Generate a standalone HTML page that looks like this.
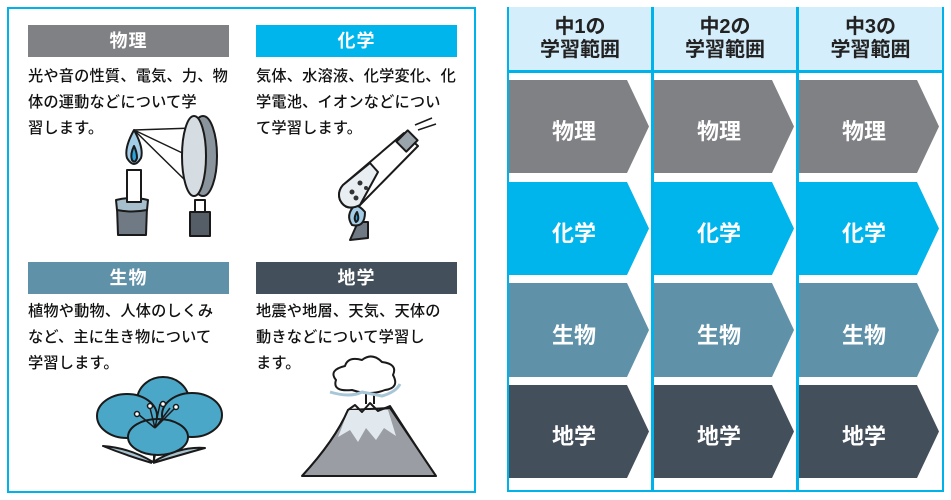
<!DOCTYPE html>
<html><head><meta charset="utf-8"><style>
*{margin:0;padding:0;box-sizing:border-box}
body{width:951px;height:500px;background:#fff;position:relative;overflow:hidden;font-family:"Liberation Sans","Noto Sans CJK JP",sans-serif}
.abs{position:absolute}
.hd{position:absolute;height:32px;color:#fff;font-size:18px;font-weight:bold;text-align:center;line-height:32px;letter-spacing:1px}
.tx{position:absolute;font-size:15.2px;line-height:26px;color:#111;white-space:nowrap;letter-spacing:0.2px;font-weight:500}
.ch{position:absolute;top:7px;height:63px;background:#d5eefb;color:#222;font-weight:bold;font-size:20px;line-height:23px;text-align:center;padding-top:9px}
.ar{position:absolute;color:#fff;font-size:22px;font-weight:bold;text-align:center}
</style></head><body>
<div class="abs" style="left:7px;top:7px;width:469px;height:486px;border:2.5px solid #00b2ea"></div>
<div class="hd" style="left:28px;top:25px;width:201px;background:#808185">物理</div>
<div class="hd" style="left:256px;top:25px;width:201px;background:#00b4ec">化学</div>
<div class="hd" style="left:28px;top:262px;width:201px;background:#5f91a8">生物</div>
<div class="hd" style="left:256px;top:262px;width:201px;background:#434f5a">地学</div>
<div class="tx" style="left:28px;top:64px">光や音の性質、電気、力、物<br>体の運動などについて学<br>習します。</div>
<div class="tx" style="left:256px;top:64px">気体、水溶液、化学変化、化<br>学電池、イオンなどについ<br>て学習します。</div>
<div class="tx" style="left:28px;top:299px">植物や動物、人体のしくみ<br>など、主に生き物について<br>学習します。</div>
<div class="tx" style="left:256px;top:299px">地震や地層、天気、天体の<br>動きなどについて学習し<br>ます。</div>

<svg class="abs" style="left:0;top:0" width="480" height="500" stroke="#1a1a1a" stroke-width="2" stroke-linejoin="round">
<path d="M117 207 L147 207 L146 235 L118 235Z" fill="#6f7a84"/>
<path d="M116 200 Q132 196 148 200 L147 210 Q132 213 117 210Z" fill="#a7bfcc"/>
<rect x="127" y="170" width="14" height="32" fill="#fff"/>
<path d="M134 130 Q124 148 127 158 Q134 170 141 158 Q144 148 134 130Z" fill="#a3cde6"/>
<path d="M134 146 Q130 154 132 160 Q135 164 137 158 Q137 152 134 146Z" fill="#2aa3dc"/>
<path d="M134 130 L194 128 M134 130 L195 159 M134 130 L190 185" fill="none" stroke-width="1.5"/>
<path d="M195 200 L205 200 L205 212 L195 212Z" fill="#fff"/>
<rect x="190" y="212" width="20" height="24" fill="#555d66"/>
<ellipse cx="203" cy="156" rx="14" ry="40" fill="#8a949c"/>
<ellipse cx="194" cy="156" rx="12" ry="40" fill="#d6dde2"/>
<path d="M415 125 L432 118 M418 130 L436 124" fill="none" stroke-width="1.5"/>
<path d="M358 222 L368 222 L368 238 L350 240Z" fill="#6f7a84"/>
<path d="M355 205 Q345 215 352 225 Q365 228 365 212 Q360 206 355 205Z" fill="#a3cde6"/>
<path d="M357 212 Q353 218 356 222 Q360 220 357 212Z" fill="#2aa3dc"/>
<path d="M343 185 L404 133 L418 146 L360 205 Q346 212 340 200 Q337 192 343 185Z" fill="#fff"/>
<path d="M343 185 L370 163 L378 172 L360 205 Q346 212 340 200 Q337 192 343 185Z" fill="#e8eef2"/>
<circle cx="352" cy="192" r="2.5" fill="#333" stroke="none"/><circle cx="360" cy="183" r="2.5" fill="#333" stroke="none"/><circle cx="356" cy="198" r="2.5" fill="#333" stroke="none"/><circle cx="366" cy="188" r="2" fill="#333" stroke="none"/>
<rect x="400" y="133" width="14" height="16" transform="rotate(45 407 141)" fill="#9aa4ab"/>
<path d="M153 463 L155 455 M152 463 Q125 455 103 446 Q130 448 153 462 M153 463 Q180 455 205 448 Q180 446 153 462" fill="#aac2cf"/>
<line x1="154" y1="430" x2="154" y2="462"/>
<ellipse cx="163" cy="401" rx="26" ry="24" fill="#4ba7c8"/>
<ellipse cx="127" cy="416" rx="30" ry="22" fill="#4ba7c8"/>
<ellipse cx="192" cy="415" rx="30" ry="22" fill="#4ba7c8"/>
<ellipse cx="158" cy="437" rx="30" ry="18" fill="#4ba7c8"/>
<path d="M155 428 L150 408 M155 428 L160 404 M155 428 L138 414 M155 428 L170 408 M155 428 L176 407" fill="none" stroke-width="1.5"/>
<g fill="#fff" stroke-width="1.5"><circle cx="150" cy="406" r="2.5"/><circle cx="163" cy="404" r="2.5"/><circle cx="137" cy="414" r="2.5"/><circle cx="176" cy="407" r="2.5"/></g>
<path d="M302 476 Q335 440 348 410 L390 408 Q415 445 436 476Z" fill="#9a9ea4"/>
<path d="M348 410 Q343 425 338 437 L350 430 L358 442 L366 428 L376 440 L384 428 L396 436 L388 410Z" fill="#e2e9ee" stroke="none"/>
<path d="M302 476 Q335 440 348 410 L355 405 L362 412 L370 403 L378 411 L390 406 Q415 445 436 476" fill="none"/>
<path d="M366 404 L366 385 M374 404 L374 385" fill="none"/>
<path d="M352 390 Q332 392 336 380 Q328 370 345 366 Q348 356 362 360 Q372 352 382 362 Q398 364 393 375 Q400 388 385 390 Q370 396 352 390Z" fill="#fff"/>
<path d="M330 392 Q350 398 362 392 L382 396 Q396 392 400 384" fill="none" stroke="#a7c6d7" stroke-width="3"/>
</svg>

<div class="abs" style="left:507px;top:7px;width:437px;height:485px;border:2.5px solid #00b2ea"></div>
<div class="abs" style="left:651px;top:7px;width:2.5px;height:485px;background:#00b2ea"></div>
<div class="abs" style="left:796px;top:7px;width:2.5px;height:485px;background:#00b2ea"></div>
<div class="ch" style="left:509px;width:142px">中1の<br>学習範囲</div>
<div class="ch" style="left:654px;width:142px">中2の<br>学習範囲</div>
<div class="ch" style="left:799px;width:143px">中3の<br>学習範囲</div>
<div class="abs" style="left:509px;top:70px;width:433px;height:2.5px;background:#00b2ea"></div>

<svg class="abs" style="left:0;top:0" width="951" height="500">
<g id="c1">
<polygon points="509,80 627,80 649,126.5 627,173 509,173" fill="#808185"/>
<polygon points="509,182 627,182 649,228.5 627,275 509,275" fill="#00b4ec"/>
<polygon points="509,283 627,283 649,330 627,377 509,377" fill="#5f91a8"/>
<polygon points="509,385 627,385 649,431.5 627,478 509,478" fill="#434f5a"/>
</g>
<use href="#c1" x="145"/>
<use href="#c1" x="290"/>
</svg>
<div class="ar" style="left:509px;top:114px;width:130px">物理</div>
<div class="ar" style="left:654px;top:114px;width:130px">物理</div>
<div class="ar" style="left:799px;top:114px;width:130px">物理</div>
<div class="ar" style="left:509px;top:216px;width:130px">化学</div>
<div class="ar" style="left:654px;top:216px;width:130px">化学</div>
<div class="ar" style="left:799px;top:216px;width:130px">化学</div>
<div class="ar" style="left:509px;top:318px;width:130px">生物</div>
<div class="ar" style="left:654px;top:318px;width:130px">生物</div>
<div class="ar" style="left:799px;top:318px;width:130px">生物</div>
<div class="ar" style="left:509px;top:419px;width:130px">地学</div>
<div class="ar" style="left:654px;top:419px;width:130px">地学</div>
<div class="ar" style="left:799px;top:419px;width:130px">地学</div>
</body></html>
